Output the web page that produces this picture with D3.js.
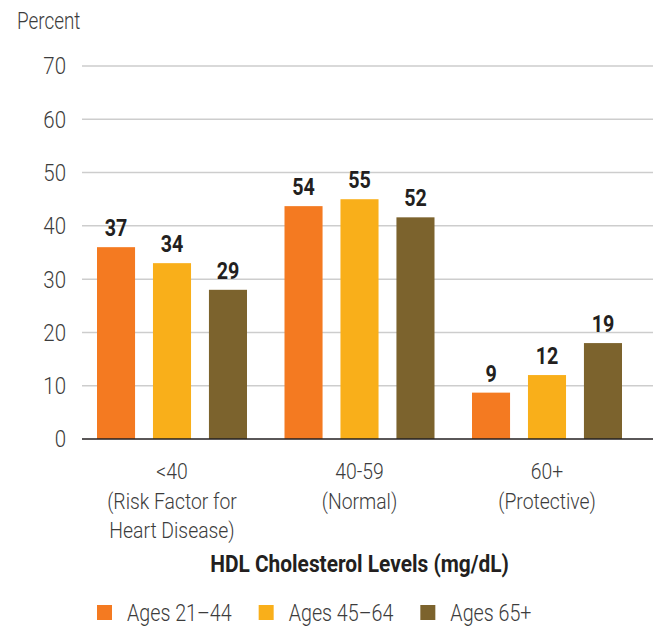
<!DOCTYPE html>
<html><head><meta charset="utf-8">
<script src="https://cdn.jsdelivr.net/npm/d3@7"></script>
<style>
body{margin:0;background:#fff}
svg{display:block}
text{font-family:'Liberation Sans Narrow','Arial Narrow','Roboto',sans-serif}
</style>
</head><body>
<svg id="chart" width="660" height="627"></svg>
<script>
// ---- data ----
const categories = ["<40", "40-59", "60+"];
const categorySubLabels = [["(Risk Factor for", "Heart Disease)"], ["(Normal)"], ["(Protective)"]];
const seriesNames = ["Ages 21–44", "Ages 45–64", "Ages 65+"];
// printed value labels
const ages21to44 = [37, 54, 9];
const ages45to64 = [34, 55, 12];
const ages65plus = [29, 52, 19];
// bar heights as drawn in the picture
const ages21to44Bars = [36, 43.7, 8.7];
const ages45to64Bars = [33, 45, 12];
const ages65plusBars = [28, 41.6, 18];
const yTicks = [0, 10, 20, 30, 40, 50, 60, 70];
const seriesColors = ["#F47A21", "#F9AF1A", "#7C632D"];
const yTitle = "Percent";
const xTitle = "HDL Cholesterol Levels (mg/dL)";

const labelSeries = [ages21to44, ages45to64, ages65plus];
const barSeries = [ages21to44Bars, ages45to64Bars, ages65plusBars];

const svg = d3.select("#chart");
const gridLeft = 82, gridRight = 653;
const textGray = "#3c3c3c";

// compress glyphs horizontally to mimic a condensed face
function condense(sel, f) {
  sel.each(function() {
    const L = this.getComputedTextLength();
    this.setAttribute("textLength", (L * f).toFixed(2));
    this.setAttribute("lengthAdjust", "spacingAndGlyphs");
  });
}

const y = d3.scaleLinear().domain([0, 70]).range([439, 66]);
const x0 = d3.scaleBand().domain(categories).range([97, 622]).paddingInner(0.2).paddingOuter(0);
const x1 = d3.scaleBand().domain(seriesNames).range([0, x0.bandwidth()]).paddingInner(0.32).paddingOuter(0);
const color = d3.scaleOrdinal().domain(seriesNames).range(seriesColors);

// gridlines
svg.append("g").selectAll("line").data(yTicks.filter(d => d > 0)).join("line")
  .attr("x1", gridLeft).attr("x2", gridRight)
  .attr("y1", d => y(d)).attr("y2", d => y(d))
  .attr("stroke", "#cdcdcd").attr("stroke-width", 1.5);

// y tick labels
const tk = svg.append("g").selectAll("text").data(yTicks).join("text")
  .attr("x", 66).attr("y", d => y(d)).attr("dy", "0.36em")
  .attr("text-anchor", "end")
  .attr("font-size", 23.5).attr("font-weight", 300).attr("fill", textGray)
  .text(d => d);
condense(tk, 0.87);

const yt = svg.append("text").attr("x", 17).attr("y", 29)
  .attr("font-size", 23).attr("font-weight", 300).attr("fill", textGray).text(yTitle);
condense(yt, 0.82);

// bars
const rows = categories.map((c, i) => ({
  cat: c,
  items: seriesNames.map((s, j) => ({ s, bar: barSeries[j][i], label: labelSeries[j][i] }))
}));

const groups = svg.append("g").selectAll("g").data(rows).join("g")
  .attr("transform", d => `translate(${x0(d.cat)},0)`);

groups.selectAll("rect").data(d => d.items).join("rect")
  .attr("x", d => x1(d.s)).attr("width", x1.bandwidth())
  .attr("y", d => y(d.bar)).attr("height", d => y(0) - y(d.bar))
  .attr("fill", d => color(d.s));

const vl = groups.selectAll("text.val").data(d => d.items).join("text")
  .attr("class", "val")
  .attr("x", d => x1(d.s) + x1.bandwidth() / 2)
  .attr("y", d => y(d.bar) - 11)
  .attr("text-anchor", "middle")
  .attr("font-size", 24).attr("font-weight", "bold").attr("fill", "#231f20")
  .text(d => d.label);
condense(vl, 0.82);

// baseline
svg.append("line").attr("x1", gridLeft).attr("x2", gridRight)
  .attr("y1", y(0)).attr("y2", y(0)).attr("stroke", "#231f20").attr("stroke-width", 1.5);

// category labels
const catLines = [];
categories.forEach((c, i) => {
  [c].concat(categorySubLabels[i]).forEach((l, k) => catLines.push({ c, l, k }));
});
const cl = svg.append("g").selectAll("text").data(catLines).join("text")
  .attr("x", d => x0(d.c) + x0.bandwidth() / 2)
  .attr("y", d => 479 + d.k * 29.5)
  .attr("text-anchor", "middle")
  .attr("font-size", 22.5).attr("font-weight", 300).attr("fill", textGray)
  .text(d => d.l);
condense(cl, 0.86);

// x title
const xt = svg.append("text").attr("x", x0(categories[1]) + x0.bandwidth() / 2).attr("y", 572)
  .attr("text-anchor", "middle").attr("font-size", 24).attr("font-weight", "bold")
  .attr("fill", "#231f20").text(xTitle);
condense(xt, 0.87);

// legend
const legend = svg.append("g");
let lx = 97;
seriesNames.forEach((s, i) => {
  legend.append("rect").attr("x", lx).attr("y", 605).attr("width", 15).attr("height", 15)
    .attr("fill", color(s));
  const t = legend.append("text").attr("x", lx + 30).attr("y", 621)
    .attr("font-size", 24).attr("font-weight", 300).attr("fill", textGray).text(s);
  const L = t.node().getComputedTextLength() * 0.82;
  t.attr("textLength", L.toFixed(2)).attr("lengthAdjust", "spacingAndGlyphs");
  lx += 30 + L + 27;
});
</script>
</body></html>
